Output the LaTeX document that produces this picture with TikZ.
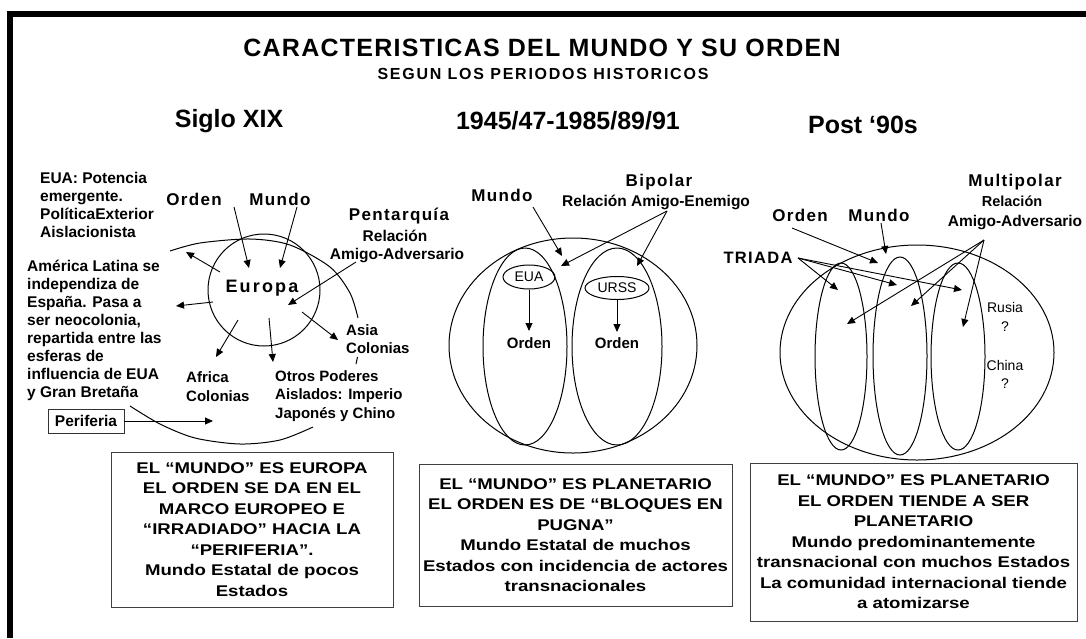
\documentclass[tikz,border=0pt]{standalone}
\usepackage{fontspec}
\setmainfont{Liberation Sans}
\newfontfamily\spaced[LetterSpace=8]{Liberation Sans}
\newfontfamily\spacedE[LetterSpace=12]{Liberation Sans}
\newfontfamily\titlef[LetterSpace=5]{Liberation Sans}
\newfontfamily\subf[LetterSpace=11]{Liberation Sans}
\newfontfamily\wide[FakeStretch=1.2]{Liberation Sans}
\usetikzlibrary{arrows.meta,shapes.geometric}
\newcommand\fs[2]{\fontsize{#1}{#2}\selectfont}
\tikzset{
  lab/.style={inner sep=0pt, font=\bfseries\fs{15.5}{18}},
  sp/.style={inner sep=0pt, font=\spaced\bfseries\fs{17}{18}},
  reg/.style={inner sep=0pt, font=\fs{14}{14}},
  hd/.style={inner sep=0pt, font=\bfseries\fs{25}{25}},
  arr/.style={-{Triangle[length=8pt,width=7pt]}, line width=0.9pt},
  shp/.style={line width=1pt},
  boxn/.style={draw=black!75, line width=1pt, align=center, inner sep=0pt, font=\wide\bfseries\fs{15.5}{20.5}},
}
\begin{document}
\begin{tikzpicture}[x=1pt,y=-1pt]
\useasboundingbox (0,0) rectangle (1086,638);
\fill[white] (0,0) rectangle (1086,638);
% frame
\coordinate (fbl) at (10,638); \coordinate (ftl) at (10,14); \coordinate (ftr) at (1086,14);
\draw[line width=6pt] (fbl) -- (ftl) -- (ftr);
% headings
\node[hd, font=\titlef\bfseries\fs{25}{25}] (title) at (542,48) {CARACTERISTICAS DEL MUNDO Y SU ORDEN};
\node[inner sep=0pt, font=\subf\bfseries\fs{16}{16}] (sub) at (543,74) {SEGUN LOS PERIODOS HISTORICOS};
\node[hd] (h1) at (229,121) {Siglo XIX};
\node[hd] (h2) at (568,121) {1945/47-1985/89/91};
\node[hd] (h3) at (863,125) {Post ‘90s};

% ===== LEFT PANEL =====
\node[lab, anchor=north west, align=left] (euaL) at (40,172) {EUA: Potencia\\emergente.\\PolíticaExterior\\Aislacionista};
\node[lab, anchor=north west, align=left] (amlat) at (27,260) {América Latina se\\independiza de\\España. Pasa a\\ser neocolonia,\\repartida entre las\\esferas de\\influencia de EUA\\y Gran Bretaña};
\node[lab, anchor=north west, align=left, font=\bfseries\fs{15}{19}] (afr) at (186,371) {Africa\\Colonias};
\node[lab, anchor=north west, align=left, font=\bfseries\fs{15}{18.5}] (otros) at (275,370) {Otros Poderes\\Aislados: Imperio\\Japonés y Chino};
\node[lab, anchor=north west, align=left, font=\bfseries\fs{15}{18}] (asia) at (346,324) {Asia\\Colonias};
\node[lab, draw=black!80, line width=0.8pt, minimum width=76pt, minimum height=24pt] (perif) at (86,421) {Periferia};
\node[sp] (orden1) at (194,199) {Orden};
\node[sp] (mundo1) at (280,199) {Mundo};
\node[sp] (penta) at (399,216) {Pentarquía};
\node[lab] (rel1) at (395,236) {Relación};
\node[lab] (amad1) at (397,256) {Amigo-Adversario};
\node[inner sep=0pt, font=\spacedE\bfseries\fs{18}{18}] (europa) at (262,288) {Europa};
\draw[shp] (264,290) circle [radius=56];
\draw[shp] plot[smooth] coordinates {(170,251) (200,243) (250,239) (290,245) (330,267) (350,293) (358,318)};
\draw[shp] (357.5,357) -- (356,364);
\draw[shp] plot[smooth] coordinates {(130,406) (160,424) (195,438) (240,444) (280,440) (313,427)};
\coordinate (l1s) at (234,207); \coordinate (l1e) at (249,268);
\coordinate (l2s) at (297,207); \coordinate (l2e) at (280,268);
\coordinate (l3s) at (356,262); \coordinate (l3e) at (288,305);
\coordinate (l4s) at (220,272); \coordinate (l4e) at (186,252);
\coordinate (l5s) at (213,302); \coordinate (l5e) at (176,306);
\coordinate (l6s) at (238,320); \coordinate (l6e) at (216,357);
\coordinate (l7s) at (269,318); \coordinate (l7e) at (273,362);
\coordinate (l8s) at (302,312); \coordinate (l8e) at (338,340);
\coordinate (l9e) at (213,421);
\draw[arr] (l1s) -- (l1e);
\draw[arr] (l2s) -- (l2e);
\draw[arr] (l3s) -- (l3e);
\draw[arr] (l4s) -- (l4e);
\draw[arr] (l5s) -- (l5e);
\draw[arr] (l6s) -- (l6e);
\draw[arr] (l7s) -- (l7e);
\draw[arr] (l8s) -- (l8e);
\draw[arr] (perif.east) -- (l9e);

% ===== MIDDLE PANEL =====
\node[sp] (mundo2) at (502,195) {Mundo};
\node[sp] (bip) at (659,182) {Bipolar};
\node[lab, font=\bfseries\fs{15.5}{15.5}, anchor=west] (relen) at (562,202) {Relación Amigo-Enemigo};
\draw[shp] (573,345.5) ellipse [x radius=124, y radius=107.5];
\draw[shp] (525,346.5) ellipse [x radius=42, y radius=98.5];
\draw[shp] (617,346.5) ellipse [x radius=45, y radius=98.5];
\node[ellipse, draw, shp, minimum width=52pt, minimum height=24pt, inner sep=0pt, font=\fs{14}{14}] (euaM) at (529,277) {EUA};
\node[ellipse, draw, shp, minimum width=64pt, minimum height=23pt, inner sep=0pt, font=\fs{14}{14}] (urss) at (617,288) {URSS};
\node[lab, font=\bfseries\fs{15}{15}] (ord2a) at (529,343) {Orden};
\node[lab, font=\bfseries\fs{15}{15}] (ord2b) at (617,343) {Orden};
\coordinate (m1e) at (529,331); \coordinate (m2e) at (617,332);
\draw[arr] (euaM.south) -- (m1e);
\draw[arr] (urss.south) -- (m2e);
\coordinate (m3s) at (533,207); \coordinate (m3e) at (562,256);
\coordinate (m4s) at (667,211); \coordinate (m4e) at (561,266); \coordinate (m5e) at (637,266);
\draw[arr] (m3s) -- (m3e);
\draw[arr] (m4s) -- (m4e);
\draw[arr] (m4s) -- (m5e);

% ===== RIGHT PANEL =====
\node[sp] (ord3) at (800,215) {Orden};
\node[sp] (mun3) at (879,215) {Mundo};
\node[sp] (multi) at (1015,182) {Multipolar};
\node[lab, font=\bfseries\fs{14.5}{14.5}] (rel3) at (1012,201) {Relación};
\node[lab] (amad3) at (1015,223) {Amigo-Adversario};
\node[inner sep=0pt, font=\spaced\bfseries\fs{16.5}{16.5}] (triada) at (758,258) {TRIADA};
\draw[shp] (917,352.5) ellipse [x radius=137, y radius=107.5];
\draw[shp] (841,356.5) ellipse [x radius=26, y radius=93.5];
\draw[shp] (900,356) ellipse [x radius=27, y radius=99];
\draw[shp] (958,356.5) ellipse [x radius=27, y radius=93.5];
\node[reg] (rusia) at (1005,307) {Rusia};
\node[reg] (q1) at (1005,327) {?};
\node[reg] (china) at (1005,365) {China};
\node[reg] (q2) at (1005,384) {?};
\coordinate (r1s) at (792,228); \coordinate (r1e) at (878,263);
\coordinate (r2s) at (881,223); \coordinate (r2e) at (886,254);
\coordinate (t0) at (798,258);
\coordinate (t1) at (838,290); \coordinate (t2) at (897,285); \coordinate (t3) at (962,290);
\coordinate (mp0) at (984,240);
\coordinate (mp1) at (847,324); \coordinate (mp2) at (911,306); \coordinate (mp3) at (963,327);
\draw[arr] (r1s) -- (r1e);
\draw[arr] (r2s) -- (r2e);
\draw[arr] (t0) -- (t1);
\draw[arr] (t0) -- (t2);
\draw[arr] (t0) -- (t3);
\draw[arr] (mp0) -- (mp1);
\draw[arr] (mp0) -- (mp2);
\draw[arr] (mp0) -- (mp3);

% ===== BOXES =====
\node[boxn, minimum width=282pt, minimum height=155pt] (b1) at (252,529.5) {EL “MUNDO” ES EUROPA\\EL ORDEN SE DA EN EL\\MARCO EUROPEO E\\“IRRADIADO” HACIA LA\\“PERIFERIA”.\\Mundo Estatal de pocos\\Estados};
\node[boxn, minimum width=313pt, minimum height=142pt] (b2) at (575.5,535) {EL “MUNDO” ES PLANETARIO\\EL ORDEN ES DE “BLOQUES EN\\PUGNA”\\Mundo Estatal de muchos\\Estados con incidencia de actores\\transnacionales};
\node[boxn, minimum width=327pt, minimum height=158pt] (b3) at (913.5,542) {EL “MUNDO” ES PLANETARIO\\EL ORDEN TIENDE A SER\\PLANETARIO\\Mundo predominantemente\\transnacional con muchos Estados\\La comunidad internacional tiende\\a atomizarse};
\end{tikzpicture}
\end{document}
